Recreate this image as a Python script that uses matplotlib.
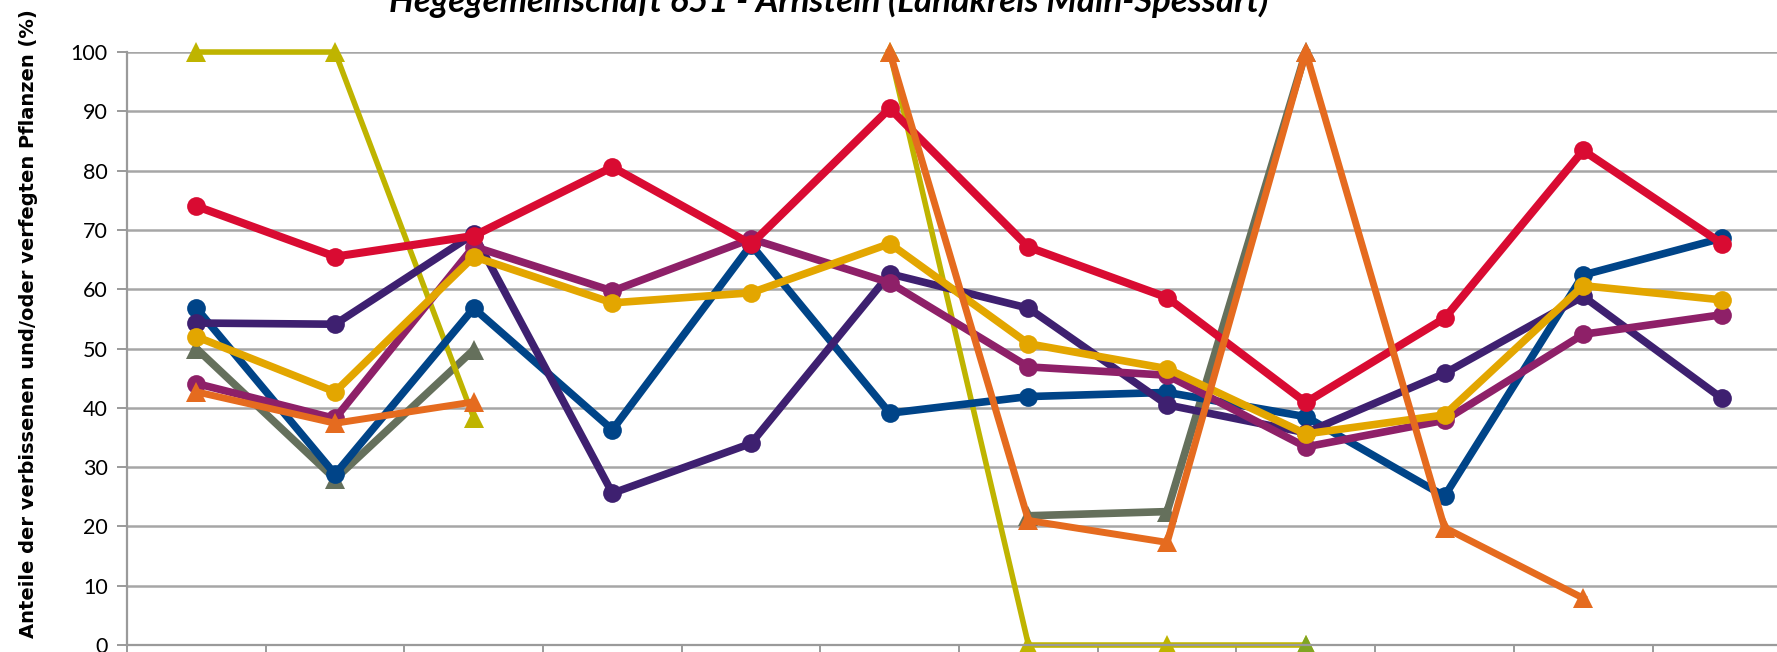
import numpy as np
import matplotlib
matplotlib.use("Agg")
import matplotlib.pyplot as plt

nan = np.nan

# Kategorien (Beschriftungen liegen ausserhalb des Bildausschnitts)
categories = list(range(12))

# Werte je Reihe
gray_vals = [50.0, 28.0, 49.8, nan, nan, nan, 21.8, 22.5, 100.0, nan, nan, nan]
olive_vals = [100.0, 100.0, 38.3, nan, nan, 100.0, 0.0, 0.0, 0.0, nan, nan, nan]
blue_vals = [56.8, 28.8, 56.8, 36.3, 67.5, 39.1, 41.9, 42.6, 38.5, 25.1, 62.4, 68.6]
purple_vals = [54.3, 54.1, 69.3, 25.6, 34.0, 62.6, 56.8, 40.5, 35.8, 45.8, 58.8, 41.6]
magenta_vals = [44.1, 38.2, 67.2, 59.7, 68.5, 61.1, 46.9, 45.5, 33.4, 37.9, 52.4, 55.7]
gold_vals = [52.0, 42.7, 65.5, 57.7, 59.4, 67.7, 50.8, 46.6, 35.6, 38.8, 60.6, 58.2]
red_vals = [74.0, 65.5, 69.0, 80.6, 67.6, 90.5, 67.1, 58.6, 40.9, 55.1, 83.4, 67.7]
orange_vals = [42.7, 37.4, 41.0, nan, nan, 100.0, 21.0, 17.3, 100.0, 19.8, 7.9, nan]
green_vals = [nan, nan, nan, nan, nan, nan, nan, nan, 0.0, nan, nan, nan]

y_ticks = list(range(0, 101, 10))

title = "Hegegemeinschaft 651 - Arnstein (Landkreis Main-Spessart)"
ylabel = "Anteile der verbissenen und/oder verfegten Pflanzen (%)"

fig = plt.figure(figsize=(17.77, 6.52), dpi=100)
ax = fig.add_axes([0.0715, 0.0107, 0.9365, 0.9095])

# Reihenfolge = Zeichenreihenfolge (spaetere liegen oben)
series = [
    (gray_vals, "#65705c", "^", 5.5),
    (olive_vals, "#bfb400", "^", 4.0),
    (blue_vals, "#004488", "o", 5.5),
    (purple_vals, "#3e2070", "o", 5.5),
    (magenta_vals, "#8e2068", "o", 5.5),
    (gold_vals, "#e3a600", "o", 5.5),
    (red_vals, "#d90b32", "o", 5.8),
    (orange_vals, "#e56b1f", "^", 5.0),
    (green_vals, "#80a523", "^", 5.0),
]

x = np.array(categories)
for vals, col, mk, lw in series:
    ax.plot(x, vals, color=col, lw=lw, marker=mk, markersize=13.5 if mk == "o" else 14,
            markeredgewidth=0, clip_on=False)

ax.set_xlim(-0.5, 11.5)
ax.set_ylim(0, 100)
ax.set_yticks(y_ticks)
ax.set_yticklabels([str(v) for v in y_ticks], fontsize=15.5, family="Lato")
ax.set_xticks(np.arange(-0.5, 12, 1))
ax.set_xticklabels([])
ax.tick_params(axis="both", length=7, width=1.4, color="#9a9a9a", pad=7)
ax.yaxis.grid(True, color="#a6a6a6", lw=1.8)
ax.set_axisbelow(True)
for s in ["top", "right"]:
    ax.spines[s].set_visible(False)
for s in ["left", "bottom"]:
    ax.spines[s].set_color("#9a9a9a")
    ax.spines[s].set_linewidth(1.6)

fig.text(0.4665, 1 - 12 / 652, title, ha="center", va="baseline",
         fontsize=25, fontweight="bold", fontstyle="italic", family="Lato")
fig.text(0.0158, 0.504, ylabel, rotation=90, ha="center", va="center",
         fontsize=14, fontweight="bold", family="DejaVu Sans")

fig.savefig("out.png", dpi=100)
